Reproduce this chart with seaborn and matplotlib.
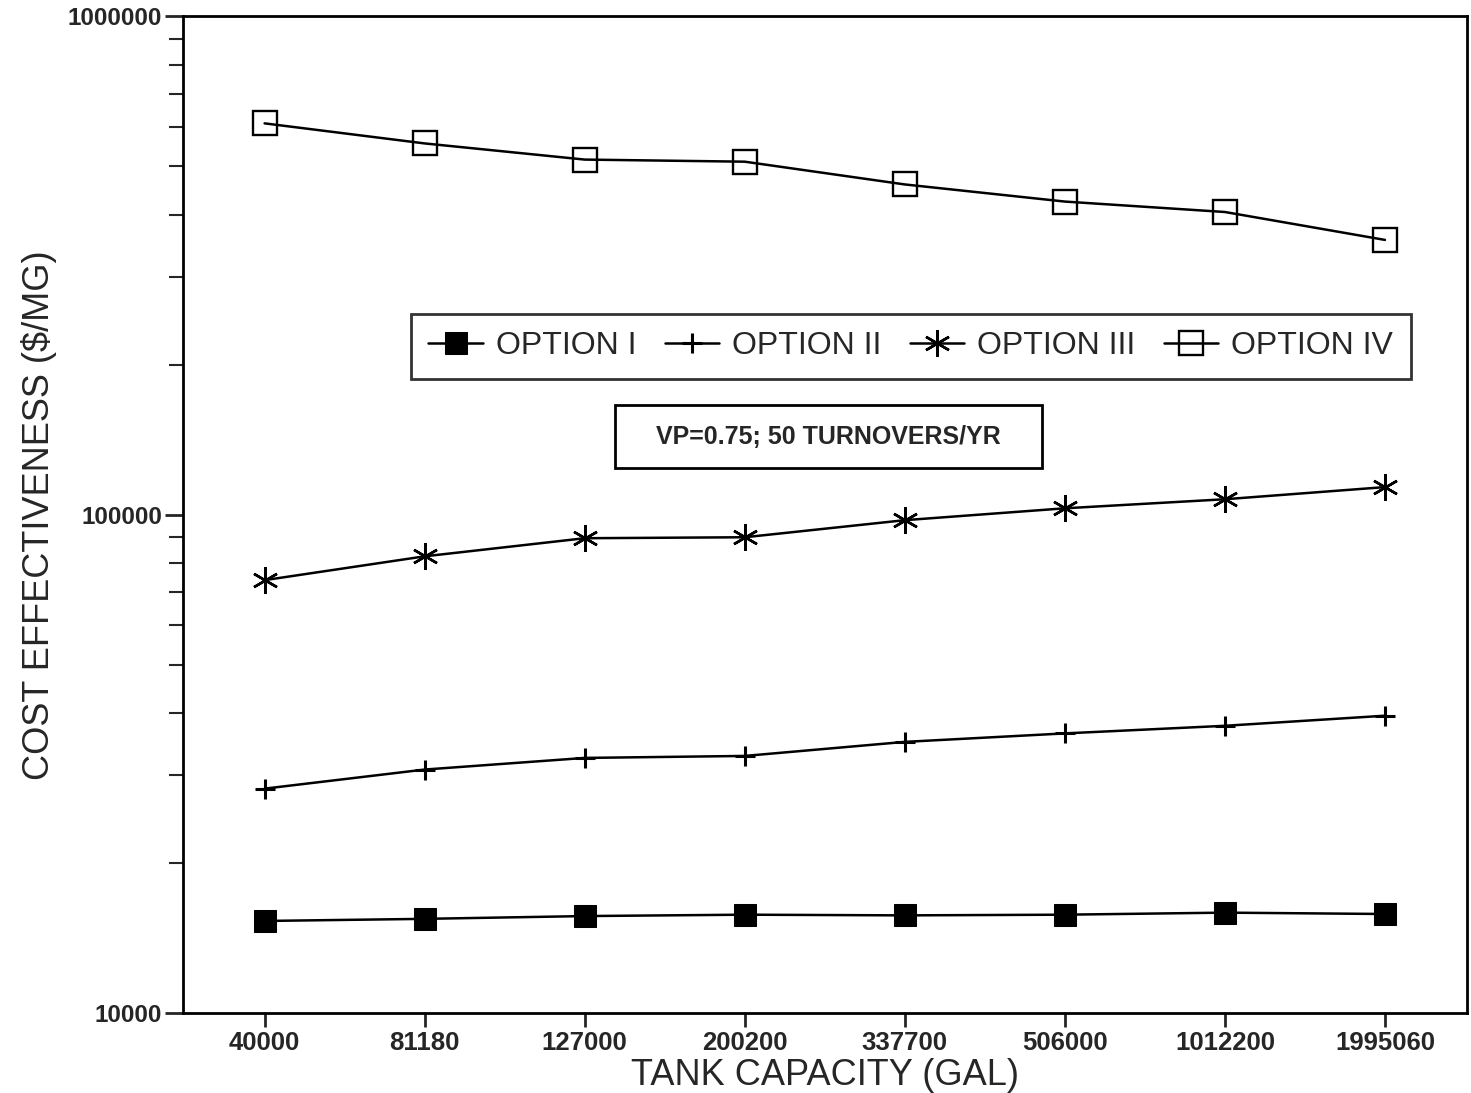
import numpy as np
import pandas as pd
import matplotlib
matplotlib.use("Agg")
import matplotlib.pyplot as plt
import matplotlib.ticker as mticker
from matplotlib.patches import Rectangle
import seaborn as sns

# Tank capacities (categorical x axis)
capacities = ["40000", "81180", "127000", "200200", "337700", "506000", "1012200", "1995060"]

# Cost effectiveness ($/MG)
option_i = [15300, 15450, 15650, 15750, 15700, 15750, 15900, 15800]
option_ii = [28200, 30800, 32500, 32800, 35000, 36400, 37700, 39500]
option_iii = [73900, 82500, 89700, 90100, 97500, 103000, 107400, 113600]
option_iv = [610000, 556000, 516000, 511000, 460000, 425000, 405000, 356000]

series_names = ["OPTION I", "OPTION II", "OPTION III", "OPTION IV"]

sns.set_theme(style="white")
plt.rcParams["font.family"] = ["Liberation Sans", "DejaVu Sans"]

fig = plt.figure(figsize=(14.71, 10.93), dpi=100)
ax = fig.add_axes([0.1244, 0.0732, 0.8726, 0.9118])

styles = {
    "OPTION I": dict(marker="s", markersize=16.5, markerfacecolor="black", markeredgecolor="black"),
    "OPTION II": dict(marker="+", markersize=15, markeredgewidth=2.2, markeredgecolor="black"),
    "OPTION III": dict(marker=(6, 2, 0), markersize=19, markeredgewidth=1.8, markeredgecolor="black"),
    "OPTION IV": dict(marker="s", markersize=17.5, markerfacecolor="none", markeredgewidth=1.7,
                      markeredgecolor="black"),
}

for name, vals in zip(series_names, [option_i, option_ii, option_iii, option_iv]):
    df = pd.DataFrame({"cap": capacities, "val": vals})
    sns.lineplot(data=df, x="cap", y="val", ax=ax, color="black", linewidth=1.8,
                 label=name, sort=False, **styles[name])

ax.set_yscale("log")
ax.set_ylim(10000, 1000000)
ax.set_xlim(-0.51, 7.51)
ax.yaxis.set_major_locator(mticker.FixedLocator([10000, 100000, 1000000]))
ax.yaxis.set_major_formatter(mticker.FixedFormatter(["10000", "100000", "1000000"]))
ax.yaxis.set_minor_locator(mticker.LogLocator(base=10, subs=np.arange(2, 10)))
ax.yaxis.set_minor_formatter(mticker.NullFormatter())
ax.set_xticks(range(len(capacities)))
ax.set_xticklabels(capacities)

ax.tick_params(axis="y", which="major", direction="out", length=13, width=2, left=True,
               labelsize=17.5, pad=2)
ax.tick_params(axis="y", which="minor", direction="out", length=10, width=1.5, left=True)
ax.tick_params(axis="x", which="major", direction="out", length=10, width=2, bottom=True,
               labelsize=18.5, pad=3)
for lab in ax.get_xticklabels() + ax.get_yticklabels():
    lab.set_fontweight("bold")

for sp in ax.spines.values():
    sp.set_color("black")
    sp.set_linewidth(2)

ax.set_xlabel("TANK CAPACITY (GAL)", fontsize=26, labelpad=2)
ax.set_ylabel("COST EFFECTIVENESS ($/MG)", fontsize=26, labelpad=8)
ax.grid(False)

leg = ax.legend(loc="center", bbox_to_anchor=(0.567, 0.669), ncol=4, fontsize=23,
                frameon=True, fancybox=False, edgecolor="black", handlelength=1.7,
                handletextpad=0.4, columnspacing=0.9, borderpad=0.55)
leg.get_frame().set_linewidth(2)

# annotation box
ax.add_patch(Rectangle((0.3364, 0.5466), 0.3326, 0.0632, transform=ax.transAxes,
                       facecolor="white", edgecolor="black", linewidth=2, zorder=4))
ax.text(0.5027, 0.578, "VP=0.75; 50 TURNOVERS/YR", transform=ax.transAxes,
        ha="center", va="center", fontsize=18, fontweight="bold", zorder=5)

fig.savefig("out.png", dpi=100)
